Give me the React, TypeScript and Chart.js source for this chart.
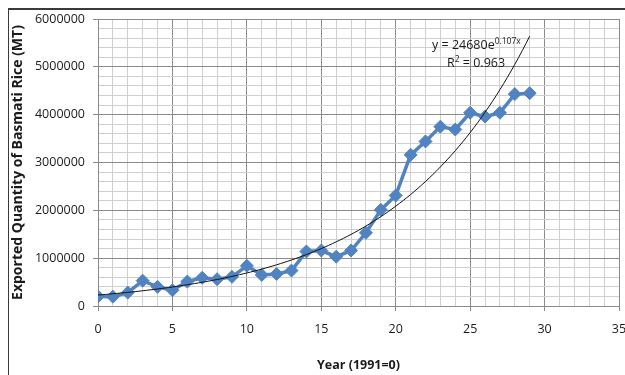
import React, { useEffect, useRef } from "react";
import { Chart, registerables } from "chart.js";

Chart.register(...registerables);

const years: number[] = [0, 1, 2, 3, 4, 5, 6, 7, 8, 9, 10, 11, 12, 13, 14, 15, 16, 17, 18, 19, 20, 21, 22, 23, 24, 25, 26, 27, 28, 29];
const quantity: number[] = [
  200000, 195000, 280000, 530000, 400000, 330000, 510000, 590000, 560000, 610000,
  840000, 650000, 670000, 740000, 1140000, 1160000, 1030000, 1160000, 1530000, 2010000,
  2310000, 3160000, 3440000, 3750000, 3690000, 4040000, 3960000, 4040000, 4430000, 4450000,
];
const equationMain = "y = 24680e";
const equationExp = "0.107x";
const rSquaredText = " = 0.963";
const yTitle = "Exported Quantity of Basmati Rice (MT)";
const xTitle = "Year (1991=0)";

// exponential least-squares fit (as a spreadsheet trendline does)
function expFit(xs: number[], ys: number[]) {
  const n = xs.length;
  const ls = ys.map((v) => Math.log(v));
  const mx = xs.reduce((a, b) => a + b, 0) / n;
  const ml = ls.reduce((a, b) => a + b, 0) / n;
  let sxy = 0;
  let sxx = 0;
  for (let i = 0; i < n; i++) {
    sxy += (xs[i] - mx) * (ls[i] - ml);
    sxx += (xs[i] - mx) ** 2;
  }
  const b = sxy / sxx;
  const a = Math.exp(ml - b * mx);
  return { a, b };
}

const FONT = "'Open Sans', 'DejaVu Sans', sans-serif";

export default function App() {
  const ref = useRef<HTMLCanvasElement | null>(null);

  useEffect(() => {
    if (!ref.current) return;
    const { a, b } = expFit(years, quantity);
    const trend: { x: number; y: number }[] = [];
    const x0 = years[0];
    const x1 = years[years.length - 1];
    for (let k = 0; k <= 116; k++) {
      const x = x0 + ((x1 - x0) * k) / 116;
      trend.push({ x, y: a * Math.exp(b * x) });
    }

    const overlay = {
      id: "overlay",
      afterDraw(chart: any) {
        const ctx = chart.ctx;
        ctx.save();
        // outer frame (top and left edges visible)
        ctx.fillStyle = "#3a3a3a";
        ctx.fillRect(8, 8, 640, 2);
        ctx.fillRect(8, 8, 1, 400);
        // equation
        ctx.fillStyle = "#1a1a1a";
        ctx.textBaseline = "alphabetic";
        ctx.textAlign = "left";
        ctx.font = `12.5px ${FONT}`;
        const ex = 432;
        const ey = 49;
        ctx.fillText(equationMain, ex, ey);
        const w1 = ctx.measureText(equationMain).width;
        ctx.font = `8.5px ${FONT}`;
        ctx.fillText(equationExp, ex + w1, ey - 5);
        ctx.font = `12.5px ${FONT}`;
        const rx = 447;
        const ry = 67;
        ctx.fillText("R", rx, ry);
        const wr = ctx.measureText("R").width;
        ctx.font = `8.5px ${FONT}`;
        ctx.fillText("2", rx + wr, ry - 5);
        const w2 = ctx.measureText("2").width;
        ctx.font = `12.5px ${FONT}`;
        ctx.fillText(rSquaredText, rx + wr + w2, ry);
        ctx.restore();
      },
    };

    const major = "#8a8a8a";
    const minor = "#cfcfcf";

    const chart = new Chart(ref.current, {
      type: "line",
      data: {
        datasets: [
          {
            label: "Quantity",
            data: years.map((x, i) => ({ x, y: quantity[i] })),
            borderColor: "#5183C0",
            backgroundColor: "#5183C0",
            borderWidth: 3.5,
            pointStyle: "rectRot",
            pointRadius: 6.5,
            pointBorderWidth: 1,
            pointBackgroundColor: "#5183C0",
            pointBorderColor: "#5183C0",
            tension: 0,
            order: 2,
          },
          {
            label: "Trend",
            data: trend,
            borderColor: "#111111",
            borderWidth: 1,
            pointRadius: 0,
            tension: 0,
            order: 1,
          },
        ],
      },
      options: {
        responsive: false,
        animation: false,
        layout: { padding: { top: 19, right: 21, bottom: 0, left: 0 } },
        plugins: {
          legend: { display: false },
          tooltip: { enabled: false },
        },
        scales: {
          x: {
            type: "linear",
            min: 0,
            max: 35,
            afterFit: (s: any) => {
              s.height = 69;
            },
            ticks: {
              stepSize: 1,
              maxTicksLimit: 100,
              autoSkip: false,
              maxRotation: 0,
              padding: 11,
              color: "#1a1a1a",
              font: { family: FONT, size: 12.5 },
              callback: (v: any) => (Number(v) % 5 === 0 ? String(v) : ""),
            },
            grid: {
              color: (c: any) => (c.tick && c.tick.value % 5 === 0 ? major : minor),
              tickColor: (c: any) => (c.tick && c.tick.value % 5 === 0 ? major : "rgba(0,0,0,0)"),
              tickLength: 5,
            },
            border: { color: major },
            title: {
              display: true,
              text: xTitle,
              color: "#1a1a1a",
              font: { family: FONT, size: 12.5, weight: "bold" },
              padding: { top: 0, bottom: 2.5 },
            },
          },
          y: {
            min: 0,
            max: 6000000,
            afterFit: (s: any) => {
              s.width = 98;
            },
            ticks: {
              stepSize: 200000,
              maxTicksLimit: 100,
              autoSkip: false,
              padding: 8,
              color: "#1a1a1a",
              font: { family: FONT, size: 12.5 },
              callback: (v: any) => (Number(v) % 1000000 === 0 ? String(v) : ""),
            },
            grid: {
              color: (c: any) => (c.tick && c.tick.value % 1000000 === 0 ? major : minor),
              tickColor: (c: any) => (c.tick && c.tick.value % 1000000 === 0 ? major : "rgba(0,0,0,0)"),
              tickLength: 5,
            },
            border: { color: major },
            title: {
              display: true,
              text: yTitle,
              color: "#1a1a1a",
              font: { family: FONT, size: 14, weight: "bold" },
              padding: { top: 9.6, bottom: 0 },
            },
          },
        },
      },
      plugins: [overlay],
    } as any);

    return () => chart.destroy();
  }, []);

  return (
    <div
      style={{
        position: "fixed",
        left: 0,
        top: 0,
        width: 625,
        height: 375,
        overflow: "hidden",
        background: "#ffffff",
      }}
    >
      <canvas ref={ref} width={640} height={375} style={{ display: "block" }} />
    </div>
  );
}
